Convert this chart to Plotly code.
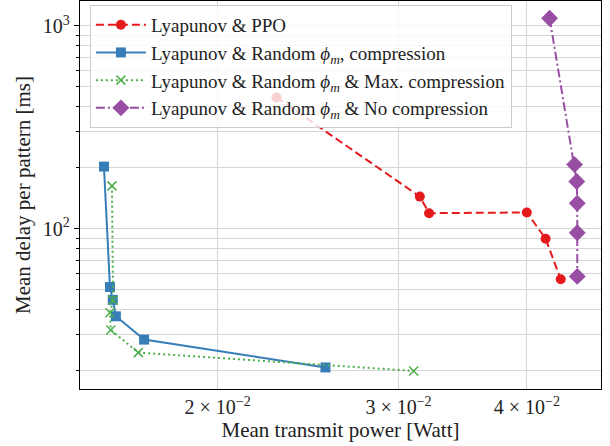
import plotly.graph_objects as go

# ---- data ----
ppo_power = [0.02282, 0.03147, 0.03213, 0.04000, 0.04172, 0.04316]
ppo_delay = [444, 144, 119.3, 120.3, 89.3, 56.3]

comp_power = [0.01550, 0.01571, 0.01581, 0.01592, 0.01696, 0.02547]
comp_delay = [202.5, 51.6, 44.6, 37.0, 28.4, 20.7]

maxc_power = [0.01578, 0.01582, 0.01571, 0.01574, 0.01674, 0.03104]
maxc_delay = [162.7, 44.4, 38.5, 31.7, 24.5, 19.9]

noc_power = [0.04210, 0.04452, 0.04474, 0.04479, 0.04479, 0.04479]
noc_delay = [1091, 207.1, 170.9, 133.6, 95.6, 58.2]

x_tickvals = [0.02, 0.03, 0.04]
x_ticktext = ["2 \u00d7 10<sup>\u22122</sup>", "3 \u00d7 10<sup>\u22122</sup>", "4 \u00d7 10<sup>\u22122</sup>"]
y_tickvals = [100, 1000]
y_ticktext = ["10<sup>2</sup>", "10<sup>3</sup>"]
y_minor = [20, 30, 40, 50, 60, 70, 80, 90, 200, 300, 400, 500, 600, 700, 800, 900]

names = [
    "Lyapunov & PPO",
    "Lyapunov & Random <i>\u03d5</i><sub><i>m</i></sub>, compression",
    "Lyapunov & Random <i>\u03d5</i><sub><i>m</i></sub> & Max. compression",
    "Lyapunov & Random <i>\u03d5</i><sub><i>m</i></sub> & No compression",
]

RED = "#e41a1c"
BLUE = "#377eb8"
GREEN = "#4daf4a"
PURPLE = "#984ea3"
FONT = "Liberation Serif"

fig = go.Figure()
fig.add_trace(go.Scatter(
    x=ppo_power, y=ppo_delay, name=names[0], mode="lines+markers",
    line=dict(color=RED, width=2, dash="8px,4px"),
    marker=dict(symbol="circle", size=10, color=RED)))
fig.add_trace(go.Scatter(
    x=comp_power, y=comp_delay, name=names[1], mode="lines+markers",
    line=dict(color=BLUE, width=2),
    marker=dict(symbol="square", size=10, color=BLUE)))
fig.add_trace(go.Scatter(
    x=maxc_power, y=maxc_delay, name=names[2], mode="lines+markers",
    line=dict(color=GREEN, width=2, dash="2px,3px"),
    marker=dict(symbol="x-thin", size=9, color=GREEN,
                line=dict(color=GREEN, width=1.5))))
fig.add_trace(go.Scatter(
    x=noc_power, y=noc_delay, name=names[3], mode="lines+markers",
    line=dict(color=PURPLE, width=2, dash="9px,3px,2px,3px"),
    marker=dict(symbol="diamond", size=13, color=PURPLE)))

fig.update_layout(
    template="none",
    width=610, height=446,
    margin=dict(l=80, r=9, t=1, b=57, autoexpand=False),
    paper_bgcolor="white", plot_bgcolor="white",
    font=dict(family=FONT, size=19, color="#222222"),
    showlegend=True,
    legend=dict(
        x=0.019, y=0.99, xanchor="left", yanchor="top",
        bgcolor="rgba(255,255,255,0.8)", bordercolor="#cccccc", borderwidth=1,
        font=dict(family=FONT, size=19, color="#222222"), itemwidth=50,
        tracegroupgap=0,
    ),
)

fig.update_xaxes(
    type="log", range=[-1.8330, -1.3257], automargin=False,
    tickvals=x_tickvals, ticktext=x_ticktext,
    ticks="",
    showgrid=True, gridcolor="#d6d6d6", gridwidth=1,
    showline=True, linecolor="black", linewidth=1.3, mirror=True,
    zeroline=False,
    title=dict(text="Mean transmit power [Watt]", font=dict(size=21, family=FONT), standoff=4),
    tickfont=dict(size=20, family=FONT),
)
fig.update_yaxes(
    type="log", range=[1.2097, 3.1229], automargin=False,
    tickvals=y_tickvals, ticktext=y_ticktext,
    ticks="outside", ticklen=5, tickcolor="black",
    showgrid=True, gridcolor="#d6d6d6", gridwidth=1,
    minor=dict(tickvals=y_minor, ticks="outside", ticklen=3, tickcolor="black",
               showgrid=True, gridcolor="#d6d6d6", gridwidth=1),
    showline=True, linecolor="black", linewidth=1.3, mirror=True,
    zeroline=False,
    title=dict(text="Mean delay per pattern [ms]", font=dict(size=21, family=FONT), standoff=6),
    tickfont=dict(size=20, family=FONT),
)

fig.write_html("out.html", config={"displayModeBar": False},
               post_script="document.body.style.margin='0px';")
